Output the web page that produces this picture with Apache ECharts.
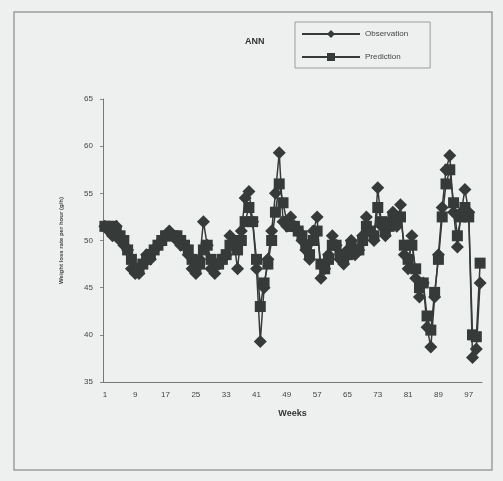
<!DOCTYPE html>
<html><head><meta charset="utf-8">
<script src="https://cdn.jsdelivr.net/npm/echarts@6/dist/echarts.min.js"></script>
<style>html,body{margin:0;padding:0;background:#eef0ef}#c{width:503px;height:481px}</style>
</head><body><div id="c"></div>
<script>
const weeks = Array.from({length:100},(_, i)=>String(i+1));
const observation = [51.5,51,50.5,51.5,50,49.5,49,47,46.5,46.5,47.5,48.5,48,49,49.5,50,50.5,51,50.5,50,
49.5,49.5,48.5,47,46.5,48,52,49.5,47,46.5,47.5,48,48.5,50.5,50,47,51,54.5,55.2,52,
47,39.3,45,48,51,55,59.3,52,51.5,52.5,51.5,51,50,49,48,51,52.5,46,47,48.5,
50.5,49.5,48,47.5,49,50,48.5,49,50.5,52.5,51,50,55.6,51.5,50.5,52,53,51.5,53.8,48.5,
47,50.5,46,44,45.5,40.8,38.7,44,48.5,53.5,57.5,59,53,49.3,53,55.4,53,37.6,38.5,45.5];
const prediction = [51.5,51.5,51.5,51,50.5,50,49,48,47,47,47.5,48,48.5,49,49.5,50,50.5,50.5,50.5,50.5,
50,49.5,49,48,47,47.5,49,49.5,48,47.5,47.5,48,48.5,49.5,50,49,50,52,53.5,52,
48,43,45.5,47.5,50,53,56,54,52,51.5,51.5,51,50.5,49.5,48.5,50,51,47.5,47,48,
49.5,49.5,48.5,48,48.5,49.5,49,49,50,51.5,51,50.5,53.5,52,51,51.5,52.5,52,52.5,49.5,
48,49.5,47,45,45.5,42,40.5,44.5,48,52.5,56,57.5,54,50.5,52.5,53.5,52.5,40,39.8,47.6];
const yTicks = [35,40,45,50,55,60,65];

const dark = '#363b39';
const chart = echarts.init(document.getElementById('c'));
chart.setOption({
  backgroundColor: '#eef0ef',
  animation: false,
  graphic: [{type:'rect', shape:{x:14,y:12,width:478,height:458}, style:{fill:'none', stroke:'#9a9d9c', lineWidth:1.5}, z:-1}],
  title: {text:'ANN', left:240, top:32, textStyle:{fontSize:9, fontWeight:'bold', color:'#333', fontFamily:'Liberation Sans'}},
  legend: {
    left:295, top:22, orient:'vertical', itemWidth:58, itemHeight:10, itemGap:15,
    padding:[8,22,7,6], borderColor:'#9a9d9c', borderWidth:1, backgroundColor:'#eef0ef',
    textStyle:{fontSize:8, color:'#444', fontFamily:'Liberation Sans'},
    data:['Observation','Prediction']
  },
  grid: {left:103, right:21, top:99, bottom:99},
  xAxis: {
    type:'category', data:weeks, boundaryGap:true,
    name:'Weeks', nameLocation:'middle', nameGap:27,
    nameTextStyle:{fontSize:9, fontWeight:'bold', color:'#333', fontFamily:'Liberation Sans'},
    axisLine:{lineStyle:{color:'#777'}},
    axisTick:{interval:0, length:3, lineStyle:{color:'#888'}},
    axisLabel:{interval:7, fontSize:8, color:'#444', margin:9, fontFamily:'Liberation Sans'}
  },
  yAxis: {
    type:'value', min:yTicks[0], max:yTicks[yTicks.length-1], interval:5,
    name:'Weight loss rate per hour (g/h)', nameLocation:'middle', nameGap:39, nameRotate:90,
    nameTextStyle:{fontSize:6, fontWeight:'bold', color:'#444', fontFamily:'Liberation Sans'},
    axisLine:{show:true, lineStyle:{color:'#777'}},
    axisTick:{show:true, length:3, lineStyle:{color:'#888'}},
    splitLine:{show:false},
    axisLabel:{fontSize:8, color:'#444', margin:10, fontFamily:'Liberation Sans'}
  },
  series: [
    {name:'Observation', type:'line', data:observation, symbol:'diamond', symbolSize:13, showAllSymbol:true,
     itemStyle:{color:dark}, lineStyle:{color:dark, width:1.5}},
    {name:'Prediction', type:'line', data:prediction, symbol:'rect', symbolSize:11, showAllSymbol:true,
     itemStyle:{color:dark}, lineStyle:{color:dark, width:1.5}}
  ]
});
</script></body></html>
